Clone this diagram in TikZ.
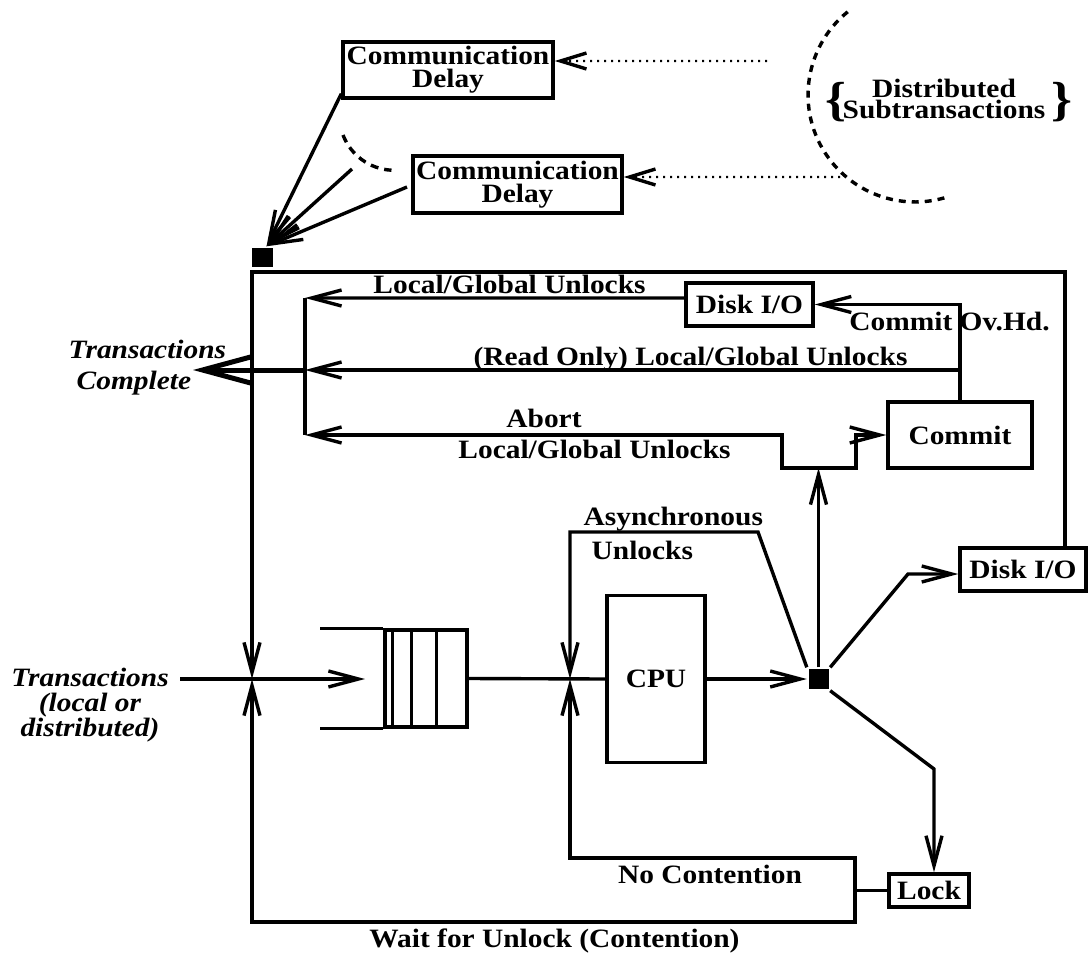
\documentclass[tikz,border=0pt]{standalone}
\usepackage{fontspec}
\setmainfont{Liberation Serif}[FakeStretch=1.11]
\usetikzlibrary{arrows.meta}
% bold label font with a fixed baseline distance
\newcommand\labfont[1]{\fontsize{26.6}{#1}\selectfont\bfseries\lineskiplimit=-60pt\lineskip=0pt\relax}
\newcommand\itlabfont[1]{\fontsize{26.6}{#1}\selectfont\bfseries\itshape\lineskiplimit=-60pt\lineskip=0pt\relax}
\begin{document}
\begin{tikzpicture}[x=1bp,y=1bp,
  line width=3.4bp,
  >={Straight Barb[length=30bp,width=16bp]},
  dotline/.style={line width=2.2bp, dash pattern=on 2bp off 5bp,
                  -{Straight Barb[length=26bp,width=16bp,line width=3.4bp]}},
  bigarrow/.style={line width=5bp, -{Straight Barb[length=48bp,width=26bp]}},
  boxn/.style={draw, line width=3.4bp, inner sep=0pt, align=center, font=\labfont{23}},
  sq/.style={fill=black, draw=none, inner sep=0pt},
  lbl/.style={inner sep=0pt, anchor=base, font=\labfont{21}},
  bracefont/.style={inner sep=0pt, font=\fontsize{48}{48}\selectfont\bfseries}]
\useasboundingbox (0,0) rectangle (1089,-954);

% ---------- communication delays and distributed subtransactions ----------
\node[boxn, minimum width=210bp, minimum height=56bp] (cd1) at (448,-70) {Communication\\Delay};
\node[boxn, minimum width=209bp, minimum height=57bp] (cd2) at (517.5,-184.5) {Communication\\Delay};
\node[sq, minimum width=21bp, minimum height=19bp] (sq1) at (262.5,-257.5) {};

\node[inner sep=0pt, align=center, font=\labfont{22}] (dist) at (944,-99) {Distributed\\Subtransactions};
\node[bracefont] (lbrace) at (836,-102) {\{};
\node[bracefont] (rbrace) at (1062,-102) {\}};

\draw[dash pattern=on 7bp off 6bp] (847.7,-11.8) arc[start angle=129, end angle=288, radius=107];
\draw[dash pattern=on 8bp off 6bp] (343,-135) arc[start angle=201, end angle=267, radius=55];

\coordinate (dt1) at (767,-61);
\coordinate (dt2) at (840,-177);
\draw[dotline] (dt1) -- ([yshift=9bp]cd1.east);
\draw[dotline] (dt2) -- ([yshift=7.5bp]cd2.east);

\coordinate (c2) at (352,-169);
\coordinate (c3) at (407,-187);
\draw[->] ([yshift=6bp]cd1.south west) -- ([xshift=4bp]sq1.north);
\draw[->] (c2) -- ([xshift=4bp]sq1.north);
\draw[->] (c3) -- ([xshift=4bp]sq1.north);

% ---------- service centres ----------
\node[draw, inner sep=0pt, minimum width=82bp, minimum height=97bp] (queue) at (426,-678.5) {};
\draw (queue.north west) -- +(-63,0);
\draw (queue.south west) -- +(-63,0);
\foreach \dx in {9,28,53} \draw ([xshift=\dx bp]queue.north west) -- ([xshift=\dx bp]queue.south west);

\node[boxn, minimum width=98bp, minimum height=167bp] (cpu) at (656,-679) {CPU};
\node[sq, minimum size=20bp] (sq2) at (818.5,-679) {};
\node[boxn, minimum width=127bp, minimum height=43bp] (disk1) at (749.5,-304.5) {Disk I/O};
\node[boxn, minimum width=126bp, minimum height=43bp] (disk2) at (1023,-569.5) {Disk I/O};
\node[boxn, minimum width=144bp, minimum height=66bp] (commit) at (960,-435) {Commit};
\node[boxn, minimum width=80bp, minimum height=33bp] (lock) at (929,-890.5) {Lock};

% ---------- junctions and corners ----------
\coordinate (J1) at (252,-679);
\coordinate (J2) at (570,-679);
\coordinate (qin) at (365,-679);
\coordinate (fr) at (1065,-272);
\coordinate (ftl) at (252,-272);
\coordinate (bT) at (305,-298);
\coordinate (bM) at (305,-370);
\coordinate (bB) at (305,-435);
\coordinate (tc) at (193,-370);
\coordinate (a1) at (758,-532);
\coordinate (d1) at (908,-574);
\coordinate (l1) at (934,-769);
\coordinate (lk) at (855,-890.5);
\coordinate (nc) at (855,-858);
\coordinate (wt) at (855,-922);
\coordinate (tin) at (180,-679);

% ---------- labels ----------
\node[inner sep=0pt, anchor=north, align=center, font=\itlabfont{25}] (tlab) at (90,-666.5)
  {Transactions\\(local or\\distributed)};
\node[inner sep=0pt, anchor=north west, align=left, font=\itlabfont{31}] (tcomp) at (67,-338.5)
  {Transactions\\\hspace*{8bp}Complete};
\node[lbl] (l1lab) at (509.5,-293) {Local/Global Unlocks};
\node[lbl] (l2lab) at (690.5,-365) {(Read Only) Local/Global Unlocks};
\node[lbl] (ovhd) at (949.5,-330) {Commit Ov.Hd.};
\node[lbl] (abort) at (544,-427) {Abort};
\node[lbl] (l3lab) at (594.5,-458) {Local/Global Unlocks};
\node[lbl, anchor=base west] (async) at (582,-525) {Asynchronous};
\node[lbl, anchor=base west] (unl) at (590,-559) {Unlocks};
\node[lbl] (nocont) at (710,-883) {No Contention};
\node[lbl] (wait) at (554.5,-947) {Wait for Unlock (Contention)};

% ---------- connectors ----------
\draw[->] (tin) -- (qin);
\draw (queue.east) -- (cpu.west);
\draw[->] (cpu.east) -- (sq2.west);
\draw[->] (sq2.north west) -- (a1) -| (J2);
\draw[->] (sq2.north) -- (sq2.north |- 0,-468);
\draw[->] (sq2.north east) -- (d1) -- (disk2.west |- d1);
\draw[->] (sq2.south east) -- (l1) -- (l1 |- lock.north);

\draw (lock.west) -- (lk);
\draw[->] (lk) -- (nc) -| (J2);
\draw[->] (lk) -- (wt) -| (J1);

\draw[->] (disk2.north -| fr) -- (fr) -- (ftl) -- (J1);

\draw[->] (commit.north) |- (disk1.east);
\draw[->] ([yshift=6.5bp]disk1.west) -- (bT);
\draw[->] (commit.north |- bM) -- (bM);
\draw[<->] (bB) -- (782,-435) -- (782,-468) -- (856,-468) -- (856,-435) -- (commit.west);
\draw (bT) -- (bB);
\draw[bigarrow] (bM) -- (tc);
\end{tikzpicture}
\end{document}
